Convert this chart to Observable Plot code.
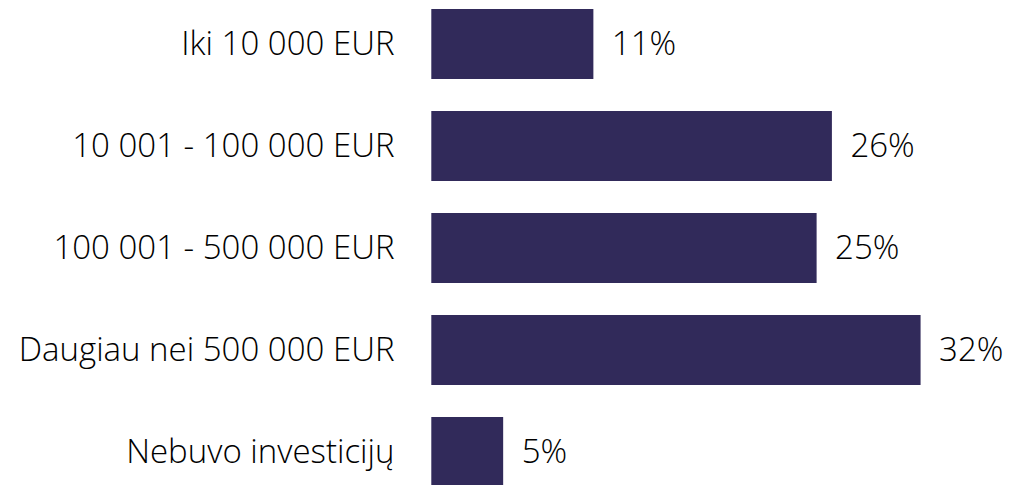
<!DOCTYPE html>
<html>
<head>
<meta charset="utf-8">
<script src="https://cdn.jsdelivr.net/npm/d3@7"></script>
<script src="https://cdn.jsdelivr.net/npm/@observablehq/plot@0.6"></script>
<style>
  html, body { margin: 0; padding: 0; background: #fff; }
  #chart { width: 1019px; height: 485px; overflow: hidden; }
</style>
</head>
<body>
<div id="chart"></div>
<script>
const categories = [
  "Iki 10 000 EUR",
  "10 001 - 100 000 EUR",
  "100 001 - 500 000 EUR",
  "Daugiau nei 500 000 EUR",
  "Nebuvo investicijų"
];
const values = [10.6, 26.2, 25.2, 32.0, 4.7];
const valueLabels = ["11%", "26%", "25%", "32%", "5%"];

const data = categories.map((c, i) => ({category: c, value: values[i], label: valueLabels[i]}));

const chart = Plot.plot({
  width: 1019,
  height: 485,
  marginTop: 0,
  marginBottom: 0,
  marginLeft: 431,
  marginRight: 0,
  style: {fontFamily: "'Open Sans', sans-serif", fontWeight: 300, fontSize: "33px", color: "#000", background: "#fff"},
  x: {domain: [0, 40], range: [431.3, 431.3 + 40 * 15.29], axis: null},
  y: {domain: categories, range: [9, 487], paddingInner: 0.314, paddingOuter: 0, axis: null},
  marks: [
    Plot.barX(data, {x: "value", y: "category", fill: "#312a5a"}),
    Plot.text(data, {x: "value", y: "category", text: "label", textAnchor: "start", dx: 18, fill: "#000", fontSize: 33}),
    Plot.axisY({tickSize: 0, tickPadding: 37, fontSize: 33, label: null, fill: "#000"})
  ]
});
document.getElementById("chart").appendChild(chart);
</script>
</body>
</html>
